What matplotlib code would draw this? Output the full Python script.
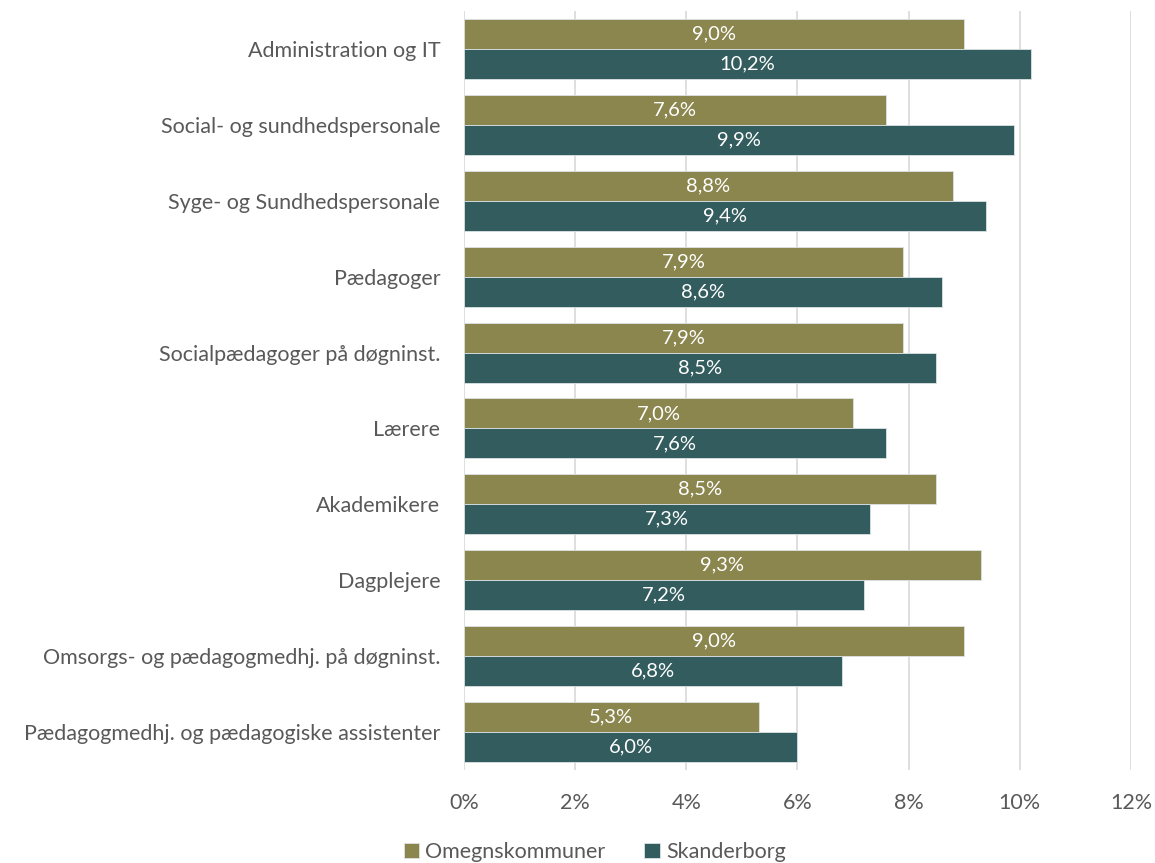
import numpy as np
import matplotlib.pyplot as plt

plt.rcParams['font.family'] = ['Lato', 'DejaVu Sans']

kategorier = [
    "Administration og IT",
    "Social- og sundhedspersonale",
    "Syge- og Sundhedspersonale",
    "Pædagoger",
    "Socialpædagoger på døgninst.",
    "Lærere",
    "Akademikere",
    "Dagplejere",
    "Omsorgs- og pædagogmedhj. på døgninst.",
    "Pædagogmedhj. og pædagogiske assistenter",
]
omegn = [9.0, 7.6, 8.8, 7.9, 7.9, 7.0, 8.5, 9.3, 9.0, 5.3]
skanderborg = [10.2, 9.9, 9.4, 8.6, 8.5, 7.6, 7.3, 7.2, 6.8, 6.0]

farve_omegn = "#8B864E"
farve_skb = "#335C5E"
tekst_farve = "#595959"

fig = plt.figure(figsize=(11.55, 8.63), dpi=100)
ax = fig.add_axes([0.4017, 0.108, 0.5775, 0.879])

y = np.arange(len(kategorier))
h = 0.395
b1 = ax.barh(y - h / 2, omegn, height=h, color=farve_omegn, edgecolor="#DCE3E3",
             linewidth=0.6, label="Omegnskommuner", zorder=3)
b2 = ax.barh(y + h / 2, skanderborg, height=h, color=farve_skb, edgecolor="#DCE3E3",
             linewidth=0.6, label="Skanderborg", zorder=3)

for bars, vals in ((b1, omegn), (b2, skanderborg)):
    for bar, v in zip(bars, vals):
        ax.text(v / 2, bar.get_y() + bar.get_height() / 2,
                f"{v:.1f}%".replace(".", ","), ha="center", va="center",
                color="white", fontsize=14.5, zorder=4)

ax.set_ylim(len(kategorier) - 0.5, -0.5)
ax.set_xlim(0, 12)
ax.set_xticks(range(0, 13, 2))
ax.set_xticklabels([f"{t}%" for t in range(0, 13, 2)])
ax.set_yticks(y)
ax.set_yticklabels(kategorier)

ax.grid(axis="x", color="#D9D9D9", linewidth=1.2, zorder=0)
for s in ax.spines.values():
    s.set_visible(False)
ax.tick_params(axis="both", length=0, labelsize=15.5, colors=tekst_farve)
ax.tick_params(axis="y", pad=17, labelsize=15.5)
ax.tick_params(axis="x", pad=17)

fig.legend(handles=[b1, b2], loc="lower center", bbox_to_anchor=(0.515, -0.021),
           ncol=2, frameon=False, fontsize=15.5, labelcolor=tekst_farve,
           handlelength=0.7, handleheight=0.7, handletextpad=0.3, columnspacing=1.8)

fig.savefig("out.png", dpi=100)
